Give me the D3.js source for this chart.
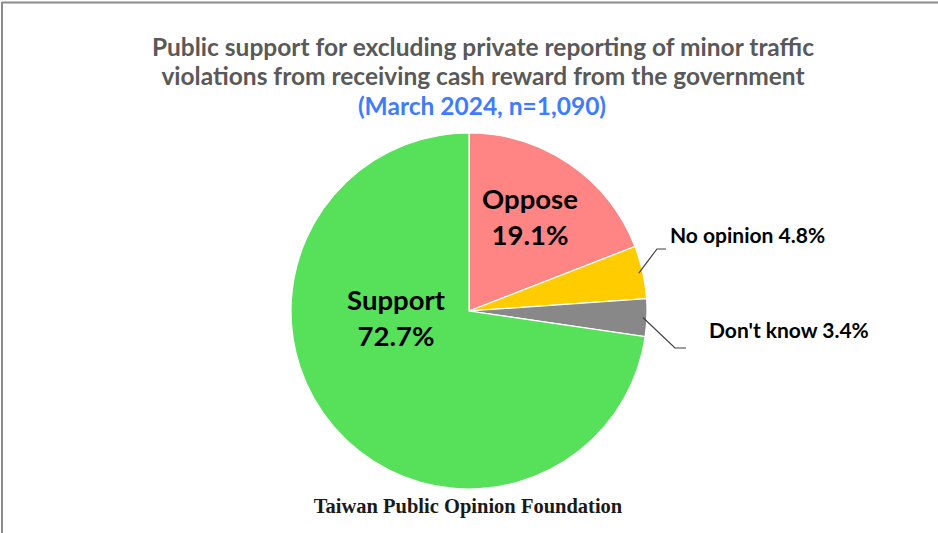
<!DOCTYPE html>
<html>
<head>
<meta charset="utf-8">
<script src="https://cdn.jsdelivr.net/npm/d3@7/dist/d3.min.js"></script>
<style>
  html, body { margin: 0; padding: 0; background: #fff; }
  svg { display: block; }
</style>
</head>
<body>
<script>
// Survey results (percent), in clockwise order starting at 12 o'clock
const categories = ["Oppose", "No opinion", "Don't know", "Support"];
const values = [19.1, 4.8, 3.4, 72.7];
const colors = ["#FF8585", "#FFCC00", "#888888", "#57E05A"];

const titleLines = [
  "Public support for excluding private reporting of minor traffic",
  "violations from receiving cash reward from the government"
];
const subtitle = "(March 2024, n=1,090)";
const footer = "Taiwan Public Opinion Foundation";

const W = 938, H = 533;
const cx = 469, cy = 311, R = 178;
const sans = "Lato, 'Open Sans', sans-serif";

const svg = d3.select("body").append("svg").attr("width", W).attr("height", H);

// frame lines on the top and left edges
svg.append("line").attr("x1", 2).attr("y1", 2.5).attr("x2", W).attr("y2", 2.5)
  .attr("stroke", "#8c8c8c").attr("stroke-width", 2);
svg.append("line").attr("x1", 2).attr("y1", 2).attr("x2", 2).attr("y2", H)
  .attr("stroke", "#8c8c8c").attr("stroke-width", 2);

// title
const titleY = [56, 85];
titleLines.forEach((t, i) => {
  svg.append("text").attr("x", 483).attr("y", titleY[i])
    .attr("text-anchor", "middle").attr("font-family", sans)
    .attr("font-weight", "bold").attr("font-size", 24.5).attr("fill", "#595959")
    .text(t);
});
svg.append("text").attr("x", 482).attr("y", 115)
  .attr("text-anchor", "middle").attr("font-family", sans)
  .attr("font-weight", "bold").attr("font-size", 24.5).attr("fill", "#3D7BFF")
  .text(subtitle);

// pie
const data = categories.map((c, i) => ({ name: c, value: values[i], color: colors[i] }));
const pie = d3.pie().value(d => d.value).sort(null);
const arcs = pie(data);
const arc = d3.arc().innerRadius(0).outerRadius(R);

const g = svg.append("g").attr("transform", `translate(${cx},${cy})`);
g.selectAll("path").data(arcs).join("path")
  .attr("d", arc)
  .attr("fill", d => d.data.color)
  .attr("stroke", "#fff").attr("stroke-width", 1.2);

// inside labels for the two large slices
const inside = {
  "Oppose": { x: 530, y: 209 },
  "Support": { x: 396, y: 310 }
};
arcs.filter(a => inside[a.data.name]).forEach(a => {
  const p = inside[a.data.name];
  const t = svg.append("text").attr("text-anchor", "middle")
    .attr("font-family", sans).attr("font-weight", "bold")
    .attr("font-size", 27.5).attr("fill", "#000");
  t.append("tspan").attr("x", p.x).attr("y", p.y).text(a.data.name);
  t.append("tspan").attr("x", p.x).attr("y", p.y + 36).text(d3.format(".1f")(a.data.value) + "%");
});

// outside labels with leader lines for the small slices
const outside = {
  "No opinion": { elbow: [657, 249], end: [666, 249], tx: 670, ty: 243 },
  "Don't know": { elbow: [675, 348], end: [686, 348], tx: 709, ty: 338 }
};
arcs.filter(a => outside[a.data.name]).forEach(a => {
  const o = outside[a.data.name];
  const mid = (a.startAngle + a.endAngle) / 2;
  const sx = cx + (R - 4) * Math.sin(mid), sy = cy - (R - 4) * Math.cos(mid);
  svg.append("polyline")
    .attr("points", [[sx, sy], o.elbow, o.end].map(p => p.join(",")).join(" "))
    .attr("fill", "none").attr("stroke", "#404040").attr("stroke-width", 1.2);
  svg.append("text").attr("x", o.tx).attr("y", o.ty)
    .attr("font-family", sans).attr("font-weight", "bold")
    .attr("font-size", 21).attr("fill", "#000")
    .text(a.data.name + " " + d3.format(".1f")(a.data.value) + "%");
});

// footer
svg.append("text").attr("x", 468).attr("y", 513)
  .attr("text-anchor", "middle").attr("font-family", "'Liberation Serif', serif")
  .attr("font-weight", "bold").attr("font-size", 20.5).attr("fill", "#1a1a1a")
  .text(footer);
</script>
</body>
</html>
